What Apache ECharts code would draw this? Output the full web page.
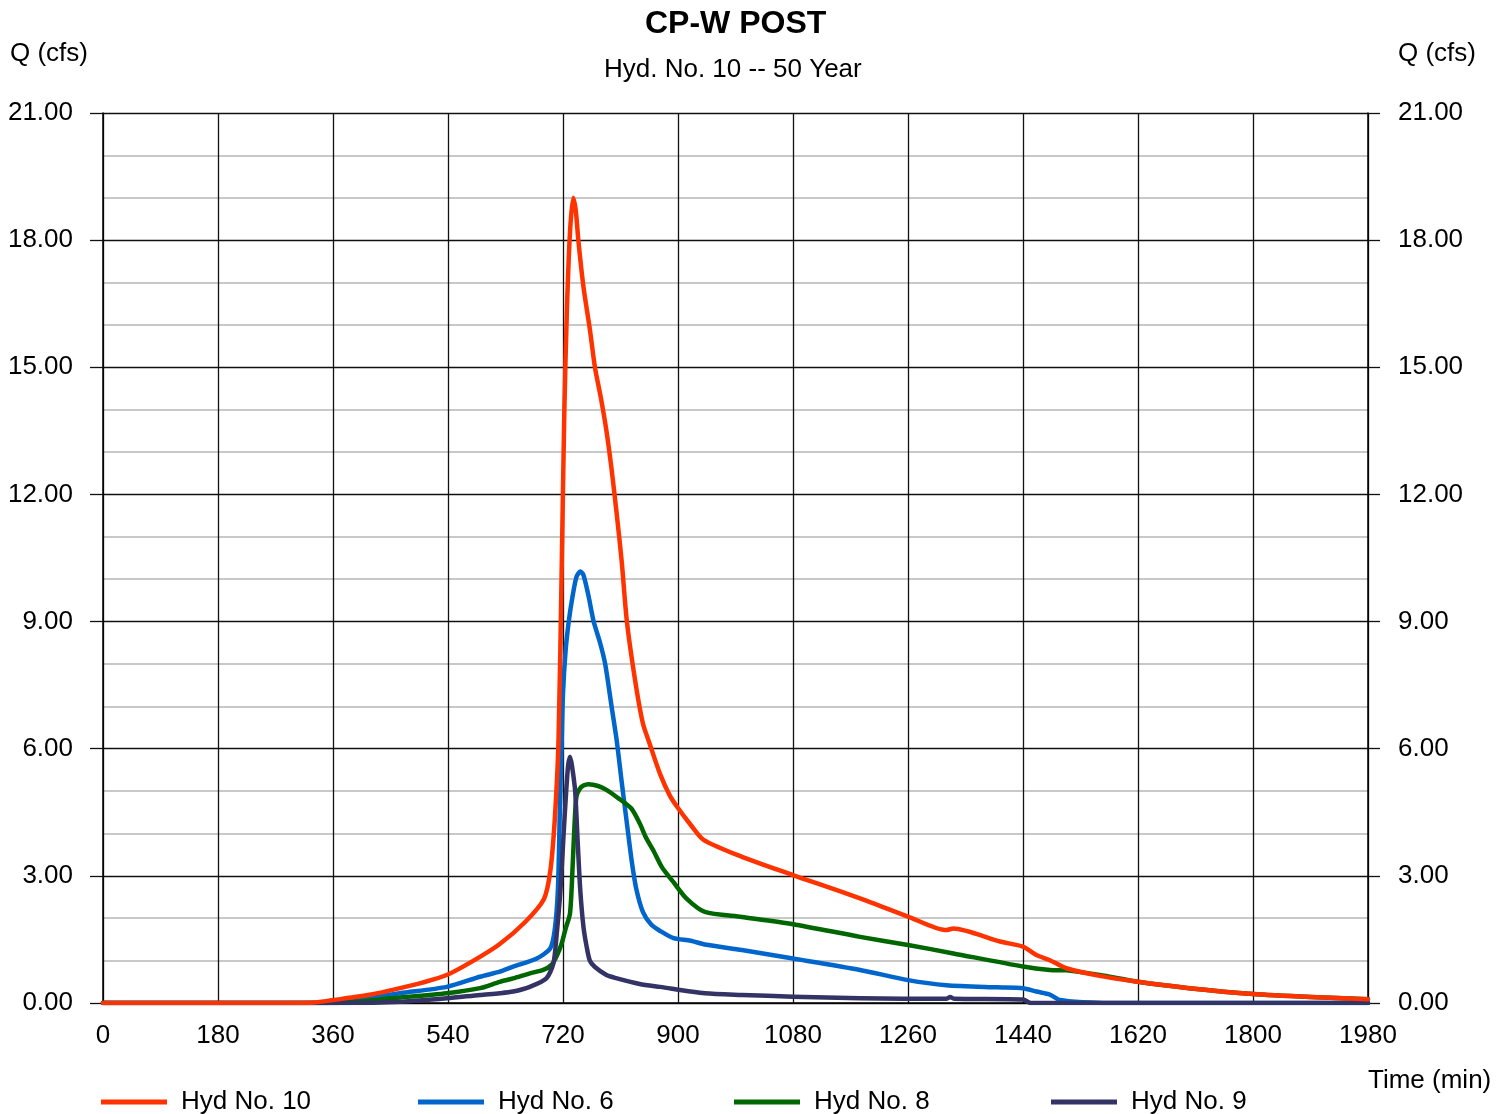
<!DOCTYPE html>
<html>
<head>
<meta charset="utf-8">
<script src="https://cdn.jsdelivr.net/npm/echarts@6/dist/echarts.min.js"></script>
<style>
html,body{margin:0;padding:0;background:#fff;}
#chart{width:1510px;height:1114px;}
</style>
</head>
<body>
<div id="chart"></div>
<script>
// ---- data (time in minutes, flow in cfs) ----
var seriesNames = ['Hyd No. 10', 'Hyd No. 6', 'Hyd No. 8', 'Hyd No. 9'];
var xTicks = [0, 180, 360, 540, 720, 900, 1080, 1260, 1440, 1620, 1800, 1980];
var yTicks = [0, 3, 6, 9, 12, 15, 18, 21];

var t10 = [0, 300, 330, 360, 420, 465, 500, 538, 580, 620, 660, 690, 700, 707, 713, 718, 722, 726, 731, 736, 740, 744, 752, 762, 770, 779, 788, 796, 804, 812, 820, 833, 845, 856, 872, 887, 900, 920, 940, 1000, 1080, 1185, 1260, 1320, 1331, 1404, 1440, 1461, 1482, 1508, 1560, 1620, 1700, 1800, 1890, 1980];
var q10 = [0, 0, 0.01, 0.07, 0.2, 0.35, 0.48, 0.66, 1.0, 1.38, 1.9, 2.45, 3.1, 4.3, 6.2, 10.3, 13.9, 16.3, 18.2, 19.0, 18.7, 18.0, 16.9, 15.9, 15.0, 14.3, 13.5, 12.6, 11.55, 10.4, 9.0, 7.6, 6.6, 6.1, 5.4, 4.9, 4.6, 4.2, 3.85, 3.45, 3.02, 2.47, 2.04, 1.72, 1.76, 1.45, 1.33, 1.13, 1.01, 0.82, 0.64, 0.5, 0.35, 0.21, 0.14, 0.09];

var t6 = [0, 340, 413, 465, 538, 590, 621, 642, 679, 700, 707, 712, 715, 718, 720, 724, 729, 735, 741, 747, 752, 760, 768, 778, 786, 796, 804, 812, 820, 828, 835, 845, 858, 872, 893, 920, 942, 1000, 1080, 1185, 1260, 1320, 1400, 1440, 1461, 1482, 1498, 1534, 1600, 1980];
var q6 = [0, 0, 0.11, 0.23, 0.38, 0.62, 0.74, 0.86, 1.05, 1.29, 1.72, 2.67, 4.5, 6.2, 7.3, 8.3, 9.0, 9.6, 10.05, 10.18, 10.1, 9.6, 9.0, 8.5, 8.0, 7.0, 6.2, 5.2, 4.24, 3.3, 2.67, 2.15, 1.85, 1.7, 1.53, 1.47, 1.38, 1.25, 1.05, 0.78, 0.54, 0.42, 0.37, 0.35, 0.27, 0.2, 0.07, 0.02, 0, 0];

var t8 = [0, 360, 465, 538, 590, 621, 642, 668, 689, 702, 710, 718, 724, 731, 735, 738, 741, 746, 752, 760, 775, 788, 805, 827, 840, 850, 861, 875, 893, 913, 942, 1000, 1080, 1185, 1260, 1331, 1440, 1482, 1508, 1560, 1620, 1700, 1800, 1890, 1980];
var q8 = [0, 0, 0.13, 0.23, 0.35, 0.5, 0.58, 0.7, 0.78, 0.9, 1.1, 1.41, 1.75, 2.12, 3.2, 4.2, 4.87, 5.05, 5.13, 5.16, 5.12, 5.03, 4.85, 4.59, 4.24, 3.9, 3.61, 3.2, 2.85, 2.47, 2.15, 2.03, 1.86, 1.56, 1.37, 1.17, 0.86, 0.78, 0.77, 0.66, 0.5, 0.35, 0.21, 0.14, 0.09];

var t9 = [0, 380, 465, 538, 590, 621, 642, 668, 694, 705, 710, 716, 721, 725, 728, 731, 734, 739, 743, 747, 752, 757, 762, 770, 788, 800, 840, 872, 942, 1000, 1080, 1185, 1320, 1326, 1332, 1440, 1452, 1980];
var q9 = [0, 0, 0.03, 0.11, 0.19, 0.23, 0.27, 0.38, 0.58, 0.94, 1.6, 2.67, 4.0, 5.0, 5.6, 5.81, 5.6, 5.0, 3.8, 2.67, 1.8, 1.33, 1.0, 0.85, 0.66, 0.6, 0.45, 0.38, 0.23, 0.19, 0.15, 0.11, 0.1, 0.14, 0.1, 0.08, 0.0, 0];

var colors = {'Hyd No. 10': '#ff3300', 'Hyd No. 6': '#0066cc', 'Hyd No. 8': '#006600', 'Hyd No. 9': '#333366'};

function zip(t, q) { return t.map(function (v, i) { return [v, q[i]]; }); }

var FONT = '"Liberation Sans", Arial, sans-serif';
var chart = echarts.init(document.getElementById('chart'), null, {renderer: 'canvas'});

function mkSeries(name, t, q) {
  return {
    name: name, type: 'line', data: zip(t, q), showSymbol: false, symbol: 'none',
    smooth: 0.25, animation: false,
    lineStyle: {color: colors[name], width: 4.5, join: 'round', cap: 'round'}, itemStyle: {color: colors[name]}
  };
}

var legendLefts = [96, 413, 729, 1046];
var legends = seriesNames.map(function (n, i) {
  return {
    data: [n], left: legendLefts[i], top: 1084, itemWidth: 66, itemHeight: 5, icon: 'rect',
    textStyle: {fontFamily: FONT, fontSize: 26, color: '#000', padding: [0, 0, 0, 9]}
  };
});

chart.setOption({
  animation: false,
  backgroundColor: '#fff',
  grid: {left: 103, right: 142, top: 113, bottom: 111},
  legend: legends,
  xAxis: {
    type: 'value', min: 0, max: 1980, interval: 180,
    axisLine: {show: true, lineStyle: {color: '#000', width: 1.5}},
    axisTick: {show: false},
    axisLabel: {fontFamily: FONT, fontSize: 26, color: '#000', margin: 20,
      formatter: function (v) { return xTicks.indexOf(v) >= 0 ? String(v) : ''; }},
    splitLine: {show: true, lineStyle: {color: '#111', width: 1.3}}
  },
  yAxis: [{
    type: 'value', min: 0, max: 21, interval: 3, position: 'left',
    axisLine: {show: true, lineStyle: {color: '#000', width: 1.5}},
    axisTick: {show: true, length: 13, lineStyle: {color: '#111', width: 1.3}},
    minorTick: {show: false, splitNumber: 3},
    minorSplitLine: {show: true, lineStyle: {color: '#c8c8c8', width: 2}},
    axisLabel: {fontFamily: FONT, fontSize: 26, color: '#000', margin: 30, padding: [9, 0, 0, 0],
      formatter: function (v) { return yTicks.indexOf(v) >= 0 ? v.toFixed(2) : ''; }},
    splitLine: {show: true, lineStyle: {color: '#111', width: 1.3}}
  }, {
    type: 'value', min: 0, max: 21, interval: 3, position: 'right',
    axisLine: {show: true, lineStyle: {color: '#000', width: 1.5}},
    axisTick: {show: true, length: 12, lineStyle: {color: '#111', width: 1.3}},
    axisLabel: {fontFamily: FONT, fontSize: 26, color: '#000', margin: 30, padding: [9, 0, 0, 0],
      formatter: function (v) { return yTicks.indexOf(v) >= 0 ? v.toFixed(2) : ''; }},
    splitLine: {show: false}
  }],
  graphic: [
    {type: 'text', left: 645, top: 8, style: {text: 'CP-W POST', font: 'bold 32px ' + FONT, fill: '#000'}},
    {type: 'text', left: 604, top: 57, style: {text: 'Hyd. No. 10 -- 50 Year', font: '26px ' + FONT, fill: '#000'}},
    {type: 'text', left: 10, top: 41, style: {text: 'Q (cfs)', font: '26px ' + FONT, fill: '#000'}},
    {type: 'text', left: 1398, top: 41, style: {text: 'Q (cfs)', font: '26px ' + FONT, fill: '#000'}},
    {type: 'text', left: 1368, top: 1068, style: {text: 'Time (min)', font: '26px ' + FONT, fill: '#000'}}
  ],
  series: [
    mkSeries('Hyd No. 6', t6, q6),
    mkSeries('Hyd No. 8', t8, q8),
    mkSeries('Hyd No. 9', t9, q9),
    mkSeries('Hyd No. 10', t10, q10)
  ]
});
</script>
</body>
</html>
